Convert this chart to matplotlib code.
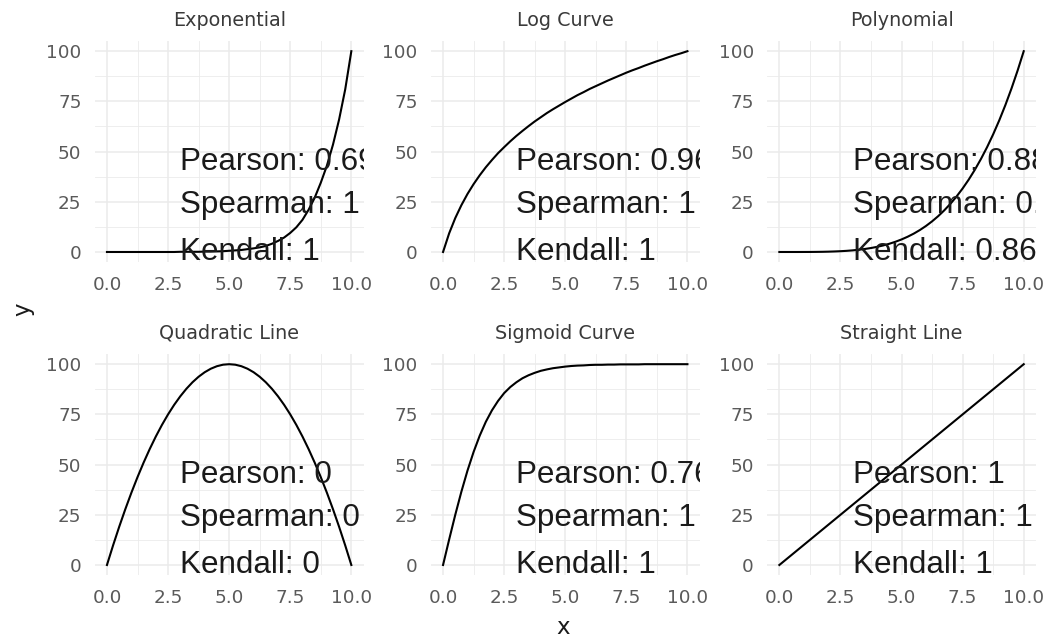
import matplotlib.pyplot as plt

# curve samples, x from 0 to 10 in steps of 0.25
x = [0, 0.25, 0.5, 0.75, 1, 1.25, 1.5, 1.75, 2, 2.25, 2.5,
     2.75, 3, 3.25, 3.5, 3.75, 4, 4.25, 4.5, 4.75, 5,
     5.25, 5.5, 5.75, 6, 6.25, 6.5, 6.75, 7, 7.25, 7.5,
     7.75, 8, 8.25, 8.5, 8.75, 9, 9.25, 9.5, 9.75, 10]

exponential = [0, 0, 0, 0, 0, 0, 0, 0, 0, 0, 0,
               0, 0.1, 0.1, 0.1, 0.1, 0.2, 0.2, 0.3, 0.4, 0.6,
               0.8, 1.0, 1.4, 1.8, 2.3, 3.0, 4.1, 5.5, 7.2, 9.5,
               12.3, 16, 21, 27, 34.5, 43, 53.5, 66, 81, 100]
log_curve = [0, 9.3, 16.9, 23.3, 28.9, 33.8, 38.2, 42.2, 45.8, 49.2, 52.2,
             55.1, 57.8, 60.3, 62.7, 65.0, 67.1, 69.2, 71.1, 72.9, 74.7,
             76.4, 78.1, 79.6, 81.2, 82.6, 84.0, 85.4, 86.7, 88.0, 89.3,
             90.5, 91.6, 92.8, 93.9, 95.0, 96.0, 97.1, 98.1, 99.0, 100]
polynomial = [0, 0, 0, 0, 0.01, 0.02, 0.05, 0.09, 0.16, 0.26, 0.39,
              0.57, 0.81, 1.12, 1.5, 1.98, 2.56, 3.26, 4.1, 5.09, 6.25,
              7.6, 9.15, 10.93, 12.96, 15.26, 17.85, 20.76, 24.01, 27.63, 31.64,
              36.07, 40.96, 46.33, 52.2, 58.62, 65.61, 73.21, 81.45, 90.37, 100]
quadratic = [0, 9.75, 19, 27.75, 36, 43.75, 51, 57.75, 64, 69.75, 75,
             79.75, 84, 87.75, 91, 93.75, 96, 97.75, 99, 99.75, 100,
             99.75, 99, 97.75, 96, 93.75, 91, 87.75, 84, 79.75, 75,
             69.75, 64, 57.75, 51, 43.75, 36, 27.75, 19, 9.75, 0]
sigmoid = [0, 12.7, 25.0, 36.5, 47.0, 56.3, 64.4, 71.3, 77.0, 81.7, 85.6,
           88.6, 91.0, 93.0, 94.5, 95.7, 96.7, 97.4, 98.0, 98.4, 98.8,
           99.1, 99.3, 99.4, 99.6, 99.7, 99.7, 99.8, 99.8, 99.9, 99.9,
           99.9, 99.9, 100, 100, 100, 100, 100, 100, 100, 100]
straight = [0, 2.5, 5, 7.5, 10, 12.5, 15, 17.5, 20, 22.5, 25,
            27.5, 30, 32.5, 35, 37.5, 40, 42.5, 45, 47.5, 50,
            52.5, 55, 57.5, 60, 62.5, 65, 67.5, 70, 72.5, 75,
            77.5, 80, 82.5, 85, 87.5, 90, 92.5, 95, 97.5, 100]

panels = ["Exponential", "Log Curve", "Polynomial",
          "Quadratic Line", "Sigmoid Curve", "Straight Line"]
curves = [exponential, log_curve, polynomial, quadratic, sigmoid, straight]

pearson = ["0.69", "0.96", "0.88", "0", "0.76", "1"]
spearman = ["1", "1", "0.96", "0", "1", "1"]
kendall = ["1", "1", "0.86", "0", "1", "1"]

xticks = [0, 2.5, 5, 7.5, 10]
xticklabels = ["0.0", "2.5", "5.0", "7.5", "10.0"]
yticks = [0, 25, 50, 75, 100]
yticklabels = ["0", "25", "50", "75", "100"]

fig = plt.figure(figsize=(10.48, 6.38), dpi=100)

lefts = [0.0904, 0.4111, 0.7320]
bottoms = [0.5893, 0.0987]
w, h = 0.2565, 0.3462
grid_col = "#EBEBEB"

for i, name in enumerate(panels):
    ax = fig.add_axes([lefts[i % 3], bottoms[i // 3], w, h])
    ax.plot(x, curves[i], color="black", lw=1.5, zorder=3)
    ax.set_xlim(-0.5, 10.5)
    ax.set_ylim(-5, 105)
    ax.set_xticks(xticks)
    ax.set_xticklabels(xticklabels)
    ax.set_yticks(yticks)
    ax.set_yticklabels(yticklabels)
    ax.set_xticks([1.25, 3.75, 6.25, 8.75], minor=True)
    ax.set_yticks([12.5, 37.5, 62.5, 87.5], minor=True)
    ax.grid(which="major", color=grid_col, lw=1.1)
    ax.grid(which="minor", color=grid_col, lw=0.6)
    ax.set_axisbelow(True)
    for s in ax.spines.values():
        s.set_visible(False)
    ax.tick_params(which="both", length=0)
    ax.tick_params(axis="x", pad=10, labelsize=13.2, labelcolor="#5A5A5A")
    ax.tick_params(axis="y", pad=9.5, labelsize=13.2, labelcolor="#5A5A5A")

    ax.annotate(name, xy=(0.5, 1), xycoords="axes fraction",
                xytext=(0, 21), textcoords="offset pixels",
                ha="center", va="center", fontsize=13.8, color="#3A3A3A")

    # correlation summary, clipped at the panel edge
    stats = ["Pearson: " + pearson[i],
             "Spearman: " + spearman[i],
             "Kendall: " + kendall[i]]
    for s, yy in zip(stats, [41, 19.2, -3.8]):
        ax.text(3, yy, s, family="Liberation Sans", fontsize=22.6,
                color="#1A1A1A", ha="left", va="baseline", clip_on=True,
                zorder=4)

fig.text(0.5375, 0.017, "x", ha="center", va="center", fontsize=16.5,
         color="#1A1A1A")
fig.text(0.022, 0.515, "y", ha="center", va="center", rotation=90,
         fontsize=16.5, color="#1A1A1A")

fig.savefig("out.png", dpi=100, facecolor="white")
